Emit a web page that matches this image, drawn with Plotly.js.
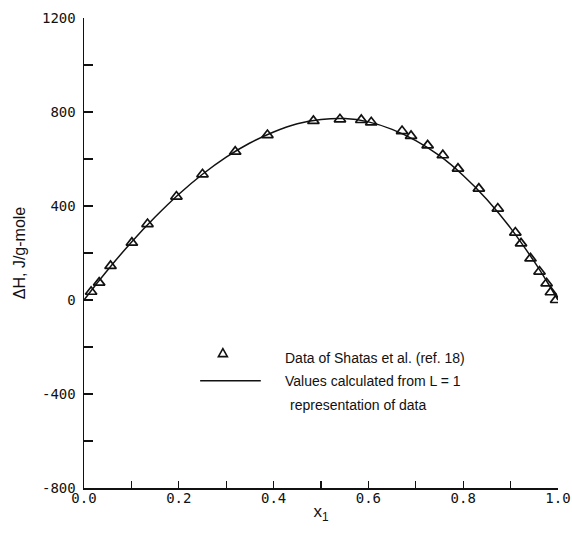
<!DOCTYPE html>
<html>
<head>
<meta charset="utf-8">
<script src="https://cdn.plot.ly/plotly-3.0.1.min.js"></script>
<style>
  html, body { margin: 0; padding: 0; background: #fff; }
  #chart { width: 572px; height: 536px; }
</style>
</head>
<body>
<div id="chart"></div>
<script>
// Measured heats of mixing (mole fraction x1, ΔH in J/g-mole)
const xData = [0.015, 0.032, 0.056, 0.101, 0.134, 0.195, 0.250, 0.319, 0.387, 0.484,
               0.540, 0.585, 0.606, 0.671, 0.690, 0.725, 0.757, 0.789, 0.833, 0.873,
               0.910, 0.922, 0.942, 0.961, 0.976, 0.985, 0.996];
const yData = [35, 74, 145, 244, 323, 440, 535, 631, 702, 762,
               769, 766, 756, 719, 698, 658, 616, 559, 474, 389,
               287, 241, 177, 121, 71, 33, 0];

// Calculated curve (L = 1 representation)
const xCurve = [0, 0.025, 0.05, 0.1, 0.15, 0.2, 0.25, 0.3, 0.35, 0.4, 0.45, 0.5,
                0.55, 0.6, 0.65, 0.7, 0.75, 0.8, 0.85, 0.9, 0.95, 0.975, 1.0];
const yCurve = [0, 65, 128, 246, 353, 450, 535, 608, 668, 715, 750, 768,
                772, 758, 726, 678, 614, 530, 428, 306, 163, 84, 0];

// Labelled axis ticks (unlabelled ticks fall halfway between)
const yTickVals = [-800, -400, 0, 400, 800, 1200];
const yTickText = ['-800', '-400', '0', '400', '800', '1200'];
const xTickVals = [0, 0.2, 0.4, 0.6, 0.8, 1.0];
const xTickText = ['0.0', '0.2', '0.4', '0.6', '0.8', '1.0'];

// Legend entries
const legendData = 'Data of Shatas et al. (ref. 18)';
const legendCurve1 = 'Values calculated from L = 1';
const legendCurve2 = 'representation of data';

const ink = '#111';
const tickFont = { family: 'DejaVu Sans Mono, monospace', size: 14, color: ink };
const textFont = { family: 'Liberation Sans Narrow, Liberation Sans, Arial, sans-serif', size: 14, color: ink };

const traces = [
  {
    x: xCurve, y: yCurve, type: 'scatter', mode: 'lines',
    line: { color: ink, width: 1.5, shape: 'spline', smoothing: 1 },
    hoverinfo: 'skip', showlegend: false
  },
  {
    x: xData, y: yData, type: 'scatter', mode: 'markers',
    marker: { symbol: 'triangle-up-open', size: 10, color: ink, line: { color: ink, width: 1.7 } },
    showlegend: false
  }
];

const layout = {
  width: 572, height: 536,
  margin: { l: 84, r: 14, t: 18, b: 48 },
  paper_bgcolor: '#fff', plot_bgcolor: '#fff',
  showlegend: false,
  xaxis: {
    range: [0, 1], tickmode: 'array', tickvals: xTickVals, ticktext: xTickText,
    ticks: 'inside', ticklen: 7, tickwidth: 1.3, tickcolor: ink,
    minor: { dtick: 0.1, ticks: 'inside', ticklen: 7, tickwidth: 1.3, tickcolor: ink, showgrid: false },
    showline: true, linecolor: ink, linewidth: 1.5, showgrid: false, zeroline: false,
    tickfont: tickFont, ticklabelstandoff: -3,
    title: { text: 'x<sub>1</sub>', font: { family: 'Liberation Sans, Arial, sans-serif', size: 17, color: ink }, standoff: 0 }
  },
  yaxis: {
    range: [-800, 1200], tickmode: 'array', tickvals: yTickVals, ticktext: yTickText,
    ticks: 'inside', ticklen: 9, tickwidth: 1.3, tickcolor: ink,
    minor: { dtick: 200, ticks: 'inside', ticklen: 9, tickwidth: 1.3, tickcolor: ink, showgrid: false },
    showline: true, linecolor: ink, linewidth: 1.5, showgrid: false, zeroline: false,
    tickfont: tickFont, ticklabelstandoff: 4,
    title: { text: 'ΔH, J/g-mole', font: { family: 'Liberation Sans, Arial, sans-serif', size: 16, color: ink }, standoff: 12 }
  },
  shapes: [
    // legend line sample
    { type: 'line', xref: 'paper', yref: 'paper', x0: 0.245, x1: 0.373, y0: 0.228, y1: 0.228,
      line: { color: ink, width: 1.5 } },
    // legend triangle sample
    { type: 'path', xref: 'paper', yref: 'paper', xsizemode: 'pixel', ysizemode: 'pixel',
      xanchor: 0.293, yanchor: 0.287, path: 'M -4.5,-3.5 L 4.5,-3.5 L 0,4.5 Z',
      line: { color: ink, width: 1.6 }, fillcolor: 'rgba(0,0,0,0)' }
  ],
  annotations: [
    { xref: 'paper', yref: 'paper', x: 0.420, y: 0.277, xanchor: 'left', yanchor: 'middle',
      text: legendData, showarrow: false, font: textFont },
    { xref: 'paper', yref: 'paper', x: 0.420, y: 0.228, xanchor: 'left', yanchor: 'middle',
      text: legendCurve1, showarrow: false, font: textFont },
    { xref: 'paper', yref: 'paper', x: 0.431, y: 0.177, xanchor: 'left', yanchor: 'middle',
      text: legendCurve2, showarrow: false, font: textFont }
  ]
};

Plotly.newPlot('chart', traces, layout, { staticPlot: true, displayModeBar: false });
</script>
</body>
</html>
